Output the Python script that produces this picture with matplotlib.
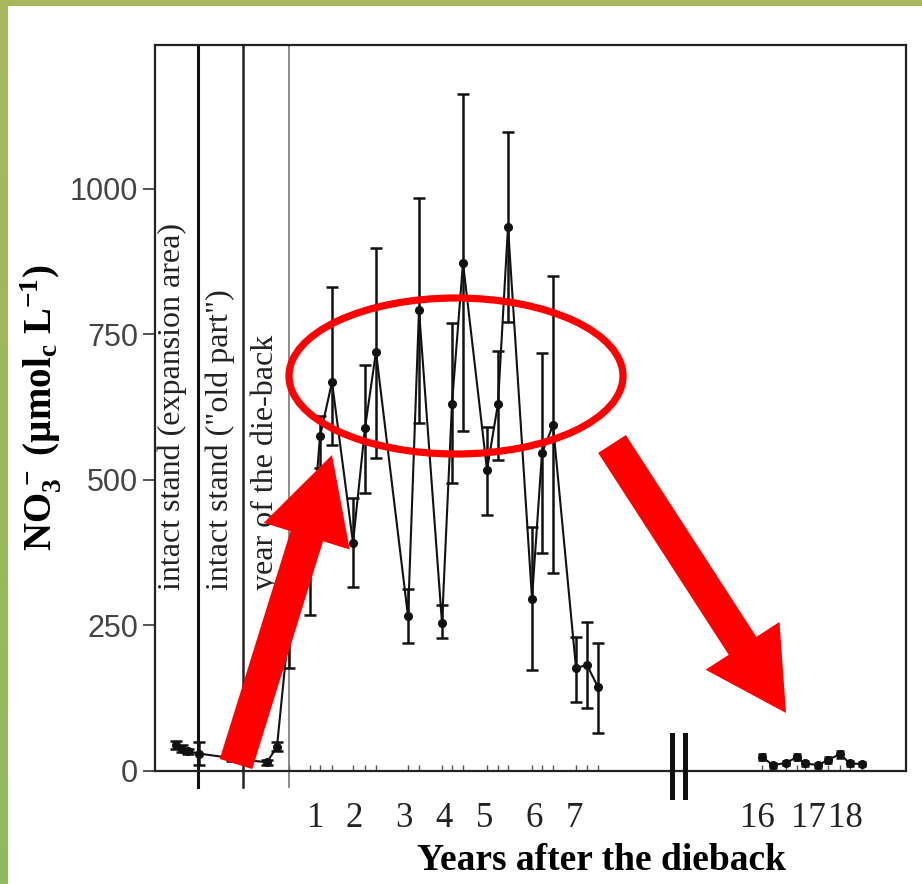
import matplotlib
matplotlib.use("Agg")
import matplotlib.pyplot as plt
import numpy as np
from matplotlib.patches import FancyArrow, Ellipse, Rectangle

plt.rcParams["mathtext.fontset"] = "custom"
plt.rcParams["mathtext.rm"] = "Liberation Serif"
plt.rcParams["mathtext.bf"] = "Liberation Serif:bold"
plt.rcParams["mathtext.it"] = "Liberation Serif:italic"

# sampling positions along the time axis (arbitrary spacing units) and NO3- values
pos_before = [2.1, 2.7, 3.3, 4.4, 7.7, 8.5, 11.2, 12.2]
no3_before = [45, 38, 34, 30, 22, 20, 15, 42]
lo_before = [38, 33, 30, 10, 18, 16, 11, 35]
hi_before = [52, 45, 38, 50, 26, 24, 19, 50]

pos_after = [13.4, 15.5, 16.5, 17.7, 19.8, 21.0, 22.1, 25.3, 26.4, 28.7, 29.7, 30.8,
             33.2, 34.3, 35.3, 37.7, 38.7, 39.8, 42.1, 43.2, 44.3]
no3_after = [249, 357, 575, 668, 392, 589, 720, 266, 792, 254, 631, 873,
             517, 631, 935, 296, 546, 594, 177, 182, 144]
lo_after = [177, 268, 520, 560, 316, 478, 538, 220, 598, 229, 495, 584,
            440, 534, 771, 173, 374, 340, 119, 108, 65]
hi_after = [320, 440, 610, 832, 469, 698, 899, 313, 985, 285, 770, 1163,
            591, 722, 1098, 419, 718, 850, 230, 256, 220]

pos_late = [60.7, 61.8, 63.1, 64.2, 65.0, 66.3, 67.3, 68.5, 69.5, 70.7]
no3_late = [24, 10, 14, 24, 13, 10, 19, 29, 13, 12]
err_late = [5, 4, 4, 5, 4, 4, 5, 6, 4, 4]

year_pos = [16.1, 19.9, 24.9, 28.9, 33.0, 37.9, 41.9, 60.2, 65.3, 69.0]
year_labels = ["1", "2", "3", "4", "5", "6", "7", "16", "17", "18"]

dividers = [4.3, 8.8, 13.4]
phase_labels = ["intact stand (expansion area)", 'intact stand ("old part")', "year of the die-back"]
phase_x = [1.7, 6.5, 11.0]

W, H = 922, 884
fig = plt.figure(figsize=(W / 100, H / 100), dpi=100)
fig.patch.set_facecolor("white")

ax = fig.add_axes([155 / W, 1 - 771 / H, (906 - 155) / W, (771 - 45) / H])
ax.set_xlim(0, 75.1)
ax.set_ylim(0, 1247)

pos = pos_before + pos_after
vals = no3_before + no3_after
lo = lo_before + lo_after
hi = hi_before + hi_after
yerr = [np.array(vals) - np.array(lo), np.array(hi) - np.array(vals)]
ax.errorbar(pos, vals, yerr=yerr, color="#111111", lw=1.5, marker="o", ms=5.5,
            elinewidth=1.8, capsize=4, capthick=1.8, zorder=3)
ax.errorbar(pos_late, no3_late, yerr=err_late, color="#111111", lw=1.5, marker="o", ms=5.5,
            elinewidth=1.8, capsize=3, capthick=1.8, zorder=3)

# phase dividers, running a little below the axis
for d, lw, c in zip(dividers, [2.2, 1.8, 1.2], ["#111111", "#222222", "#777777"]):
    ax.plot([d, d], [-28, 1247], color=c, lw=lw, clip_on=False, zorder=2)

for x, t in zip(phase_x, phase_labels):
    ax.text(x, 311, t, rotation=90, ha="center", va="bottom", family="Liberation Serif",
            fontsize=23, color="#222222")

ax.set_yticks([0, 250, 500, 750, 1000])
ax.tick_params(axis="y", direction="out", length=9, width=1.3, labelsize=22, colors="#444444",
               pad=3)
for lab in ax.get_yticklabels():
    lab.set_family("Liberation Sans")

ax.set_xticks(year_pos)
ax.set_xticklabels(year_labels, family="Liberation Serif", fontsize=25, color="#222222")
ax.tick_params(axis="x", length=0, pad=22)
ax.set_xticks(pos_after + pos_late, minor=True)
ax.tick_params(axis="x", which="minor", direction="in", length=4, width=1, color="#555555")

for s in ax.spines.values():
    s.set_linewidth(1.6)
    s.set_color("#222222")

ylab = ax.set_ylabel(r"$\mathbf{NO}_\mathbf{3}^{\mathbf{\,-}}$ (µmol$_\mathbf{c}$ L$^\mathbf{-1}$)",
                     family="Liberation Serif", fontsize=28, fontweight="bold", va="center")
ax.yaxis.set_label_coords(-0.153, 0.50)
ax.set_xlabel("Years after the dieback", family="Liberation Serif", fontsize=27,
              fontweight="bold", va="center")
ax.xaxis.set_label_coords(0.594, -0.123)

# axis break mark
for bx in [672, 685]:
    fig.add_artist(plt.Line2D([bx / W, bx / W], [1 - 735 / H, 1 - 797 / H], color="#111111",
                              lw=3.6, transform=fig.transFigure))

# red highlights, laid out in inches from the lower-left corner
tr = fig.dpi_scale_trans
def inch(px, py):
    return px / 100, (H - py) / 100

x0, y0 = inch(236, 764)
x1, y1 = inch(332, 455)
fig.patches.append(FancyArrow(x0, y0, x1 - x0, y1 - y0, width=0.34, head_width=0.9,
                              head_length=0.85, length_includes_head=True, color="#ff0000",
                              lw=0, transform=tr, zorder=10))
x0, y0 = inch(612, 444)
x1, y1 = inch(786, 713)
fig.patches.append(FancyArrow(x0, y0, x1 - x0, y1 - y0, width=0.33, head_width=0.88,
                              head_length=0.8, length_includes_head=True, color="#ff0000",
                              lw=0, transform=tr, zorder=10))
cx, cy = inch(456, 376)
fig.patches.append(Ellipse((cx, cy), 3.34, 1.56, fill=False, ec="#ff0000", lw=5.2,
                           transform=tr, zorder=10))

# green frame along the top and left edges
grad = fig.add_axes([0, 0, 7 / W, 1])
grad.imshow(np.linspace(0, 1, 100).reshape(-1, 1), aspect="auto",
            cmap=matplotlib.colors.LinearSegmentedColormap.from_list("g", ["#a9b85c", "#8fbb5d"]))
grad.set_axis_off()
fig.patches.append(Rectangle((0, 1 - 6 / H), 1, 6 / H, color="#a8b75b", lw=0,
                             transform=fig.transFigure))

fig.savefig("out.png", dpi=100)
